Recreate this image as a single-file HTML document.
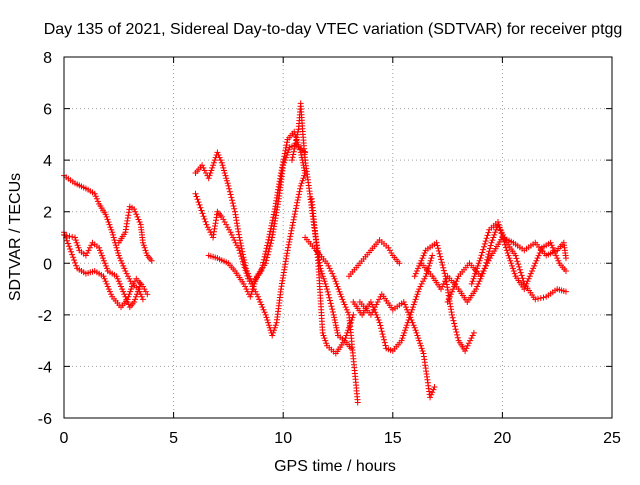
<!DOCTYPE html>
<html><head><meta charset="utf-8"><style>
body{margin:0;background:#fff}
svg text{font-family:"Liberation Sans",sans-serif;font-size:16px;fill:#000}
</style></head><body>
<svg id="c" width="640" height="480">
<text x="333" y="34" text-anchor="middle">Day 135 of 2021, Sidereal Day-to-day VTEC variation (SDTVAR) for receiver ptgg</text>
<text x="335" y="471" text-anchor="middle">GPS time / hours</text>
<text transform="translate(20,237) rotate(-90)" text-anchor="middle">SDTVAR / TECUs</text>
<g id="grid"></g><g id="marks"></g>
<rect x="64" y="57" width="548" height="361" fill="none" stroke="#000"/>
</svg>
<script>
const xTicks=[0,5,10,15,20,25];
const yTicks=[-6,-4,-2,0,2,4,6,8];
const track1=[[0,3.4],[0.5,3.1],[1.0,2.9],[1.4,2.7],[1.6,2.3],[1.9,1.9],[2.2,1.2],[2.5,0.3],[2.8,-0.3],[3.1,-0.8],[3.4,-1.0],[3.6,-1.4]];
const track2=[[0,1.1],[0.5,1.0],[0.7,0.5],[1.0,0.3],[1.3,0.8],[1.6,0.6],[2.0,-0.3],[2.4,-0.5],[2.7,-1.1],[3.0,-1.7],[3.2,-1.5],[3.5,-0.8]];
const track3=[[0,1.2],[0.6,-0.2],[1.0,-0.4],[1.4,-0.3],[1.8,-0.5],[2.2,-1.3],[2.6,-1.7],[2.9,-1.4],[3.1,-0.9],[3.3,-0.6],[3.6,-0.9],[3.8,-1.2]];
const track4=[[2.5,0.8],[2.8,1.2],[3.0,2.2],[3.2,2.1],[3.5,1.5],[3.6,0.8],[3.8,0.3],[4.0,0.1]];
const track5=[[6.0,3.5],[6.3,3.8],[6.6,3.3],[7.0,4.3],[7.2,3.9],[7.5,3.0],[7.8,2.0],[8.0,1.0],[8.3,-0.2],[8.6,-0.8],[9.0,-0.3],[9.3,0.8],[9.6,2.0],[9.9,3.5],[10.2,4.8],[10.5,5.1],[10.8,4.3],[11.0,3.5]];
const track6=[[6.0,2.7],[6.5,1.5],[6.8,1.0],[7.0,2.0],[7.2,1.8],[7.6,1.2],[8.0,0.5],[8.4,-0.6],[8.8,-1.2],[9.2,-2.0],[9.5,-2.8],[9.7,-2.3],[9.9,-1.0],[10.2,0.5],[10.5,1.8],[10.8,3.0],[11.0,3.5]];
const track7=[[10.4,4.0],[10.7,5.2],[10.8,6.2],[10.9,5.0],[11.0,4.0]];
const track8=[[6.6,0.3],[7.0,0.2],[7.5,0.0],[7.8,-0.3],[8.2,-0.8],[8.5,-1.3],[8.8,-0.5],[9.2,0.0],[9.5,1.0],[9.8,2.5],[10.0,3.8],[10.3,4.5],[10.6,4.6],[11.0,4.3]];
const track9=[[11.0,4.0],[11.2,2.8],[11.4,1.5],[11.7,-0.2],[12.0,-1.0],[12.3,-2.0],[12.5,-2.8],[12.8,-3.0],[13.0,-2.5],[13.2,-2.0]];
const track10=[[11.3,2.5],[11.6,0.0],[11.8,-2.7],[12.0,-3.2],[12.4,-3.5],[12.8,-3.0],[13.1,-3.3]];
const track11=[[11.0,1.0],[11.5,0.5],[12.0,0.0],[12.3,-0.5],[12.7,-1.4],[13.0,-2.0],[13.3,-4.5],[13.4,-5.4]];
const track12=[[13.0,-0.5],[13.5,0.0],[14.0,0.5],[14.4,0.9],[14.8,0.6],[15.0,0.3],[15.3,0.0]];
const track13=[[13.2,-1.5],[13.6,-2.0],[14.0,-1.5],[14.4,-2.3],[14.7,-3.3],[15.0,-3.4],[15.4,-3.0],[15.8,-2.0],[16.2,-1.0],[16.5,-0.5],[16.8,0.3]];
const track14=[[13.5,-1.5],[14.0,-2.0],[14.5,-1.2],[15.0,-1.8],[15.5,-1.5],[16.0,-2.5],[16.4,-3.5],[16.7,-5.2],[16.9,-4.8]];
const track15=[[16.0,-0.5],[16.5,0.5],[17.0,0.8],[17.4,-0.5],[17.7,-2.0],[18.0,-3.0],[18.3,-3.4],[18.7,-2.7]];
const track16=[[16.3,0.0],[16.8,-0.5],[17.2,-1.0],[17.5,-0.5],[18.0,-1.0],[18.4,-1.5],[18.8,-1.0],[19.2,-0.2],[19.5,0.8],[19.8,1.5],[20.2,0.8],[20.6,0.3],[21.0,-0.8],[21.5,-1.4],[22.0,-1.3],[22.5,-1.0],[22.9,-1.1]];
const track17=[[17.5,-1.5],[18.0,-0.5],[18.5,0.0],[19.0,-0.5],[19.5,0.3],[20.0,1.0],[20.5,0.8],[21.0,0.5],[21.5,0.8],[22.0,0.3],[22.5,0.5],[22.8,0.8],[22.9,0.2]];
const track18=[[18.6,-0.8],[19.0,0.2],[19.4,1.3],[19.8,1.6],[20.2,0.5],[20.6,-0.5],[21.0,-1.0],[21.4,-0.2],[21.8,0.6],[22.2,0.8],[22.6,0.0],[22.9,-0.3]];
const tracks=[track1,track2,track3,track4,track5,track6,track7,track8,track9,track10,track11,track12,track13,track14,track15,track16,track17,track18];
const NS="http://www.w3.org/2000/svg";
const X0=64,X1=612,Y0=418,Y1=57,xmin=0,xmax=25,ymin=-6,ymax=8;
const sx=v=>X0+(v-xmin)/(xmax-xmin)*(X1-X0);
const sy=v=>Y0-(v-ymin)/(ymax-ymin)*(Y0-Y1);
const grid=document.getElementById('grid'),marks=document.getElementById('marks'),svg=document.getElementById('c');
xTicks.forEach(t=>{
 const x=sx(t);
 if(t>xmin&&t<xmax){const l=document.createElementNS(NS,'line');l.setAttribute('x1',x);l.setAttribute('x2',x);l.setAttribute('y1',Y1);l.setAttribute('y2',Y0);l.setAttribute('stroke','#a0a0a0');l.setAttribute('stroke-dasharray','1,3');
 
 grid.appendChild(l);}
 const tk=document.createElementNS(NS,'path');tk.setAttribute('d',`M${x},${Y0}v-6M${x},${Y1}v6`);tk.setAttribute('stroke','#000');
 
 grid.appendChild(tk);
 const tx=document.createElementNS(NS,'text');tx.setAttribute('x',x);tx.setAttribute('y',443);tx.setAttribute('text-anchor','middle');tx.textContent=t;
 
 svg.appendChild(tx);
});
yTicks.forEach(t=>{
 const y=sy(t);
 if(t>ymin&&t<ymax){const l=document.createElementNS(NS,'line');l.setAttribute('x1',X0);l.setAttribute('x2',X1);l.setAttribute('y1',y);l.setAttribute('y2',y);l.setAttribute('stroke','#a0a0a0');l.setAttribute('stroke-dasharray','1,3');
 
 grid.appendChild(l);}
 const tk=document.createElementNS(NS,'path');tk.setAttribute('d',`M${X0},${y}h6M${X1},${y}h-6`);tk.setAttribute('stroke','#000');
 
 grid.appendChild(tk);
 const tx=document.createElementNS(NS,'text');tx.setAttribute('x',52);tx.setAttribute('y',y+6);tx.setAttribute('text-anchor','end');tx.textContent=t;
 
 svg.appendChild(tx);
});
tracks.forEach((tr,i)=>{
 let d='';
 for(let k=0;k<tr.length-1;k++){
  const ax=sx(tr[k][0]),ay=sy(tr[k][1]),bx=sx(tr[k+1][0]),by=sy(tr[k+1][1]);
  const n=Math.max(1,Math.ceil(Math.hypot(bx-ax,by-ay)/3));
  for(let j=0;j<n;j++){const x=ax+(bx-ax)*j/n,y=ay+(by-ay)*j/n;d+=`M${(x-3).toFixed(1)},${y.toFixed(1)}h6M${x.toFixed(1)},${(y-3).toFixed(1)}v6`;}
 }
 const l=tr[tr.length-1];d+=`M${sx(l[0])-3},${sy(l[1])}h6M${sx(l[0])},${sy(l[1])-3}v6`;
 const p=document.createElementNS(NS,'path');p.setAttribute('d',d);p.setAttribute('stroke','#ff0000');p.setAttribute('stroke-width','1');p.setAttribute('fill','none');
 
 marks.appendChild(p);
});
</script>
</body></html>
